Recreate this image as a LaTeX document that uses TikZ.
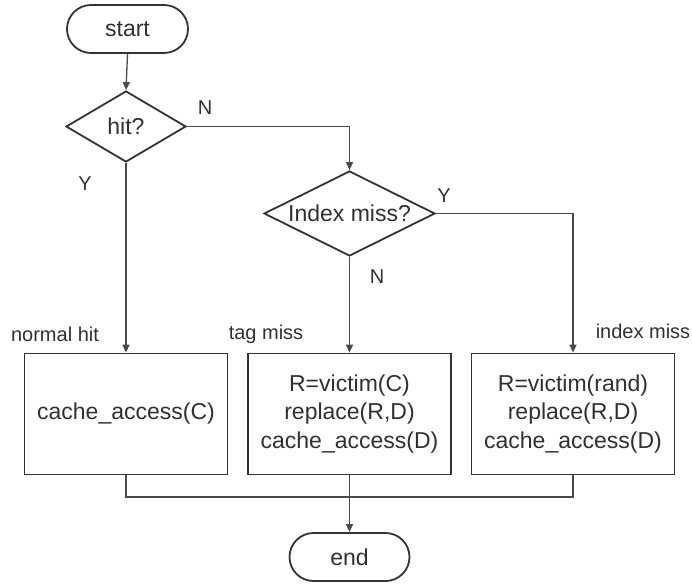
\documentclass[tikz,border=0pt]{standalone}
\usepackage{fontspec}
\setmainfont{Liberation Sans}
\usetikzlibrary{shapes.geometric,arrows.meta}
\definecolor{ln}{HTML}{4A4A4A}
\definecolor{bd}{HTML}{333333}
\definecolor{tx}{HTML}{303030}
\begin{document}
\begin{tikzpicture}[x=1pt,y=-1pt,
  every node/.style={text=tx, font=\fontsize{23}{28.5}\selectfont},
  pill/.style={draw=bd, line width=1.8pt, rectangle, rounded corners=24pt, minimum width=121pt, minimum height=48pt, inner sep=0pt},
  decision/.style={draw=bd, line width=1.8pt, diamond, inner sep=0pt},
  procbox/.style={draw=bd, line width=1.8pt, rectangle, minimum width=203pt, minimum height=121pt, inner sep=0pt, align=center},
  lbl/.style={font=\fontsize{20}{24}\selectfont, anchor=base, inner sep=0pt},
  conn/.style={draw=ln, line width=1.3pt},
  arr/.style={conn, -{Triangle[length=8pt,width=7pt]}}
]
\useasboundingbox (0,0) rectangle (692,584);
% nodes
\node[pill] (start) at (127.5,29) {start};
\node[decision, minimum width=120pt, minimum height=71pt] (hit) at (126,126.5) {};
\node[inner sep=0pt] (hittxt) at (126,126.5) {hit?};
\node[decision, minimum width=171pt, minimum height=85pt] (idx) at (349.5,213.5) {};
\node[inner sep=0pt] (idxtxt) at (349.5,213.5) {Index miss?};
\node[procbox] (b1) at (126,414) {cache\_access(C)};
\node[procbox] (b2) at (349.5,414) {R=victim(C)\\replace(R,D)\\cache\_access(D)};
\node[procbox] (b3) at (573,414) {R=victim(rand)\\replace(R,D)\\cache\_access(D)};
\node[pill, minimum width=120pt, minimum height=48pt] (end) at (349.5,557) {end};
\coordinate (join) at (349.5,497);
% labels
\node[lbl] (lN1) at (205,114) {N};
\node[lbl] (lY1) at (85,190) {Y};
\node[lbl] (lY2) at (444,202) {Y};
\node[lbl] (lN2) at (377,283) {N};
\node[lbl] (lnh) at (55,341) {normal hit};
\node[lbl] (ltm) at (266,339) {tag miss};
\node[lbl] (lim) at (643,338) {index miss};
% connectors
\draw[arr] (start.south) -- (hit.north);
\draw[arr] (hit.east) -| (idx.north);
\draw[arr] (hit.south) -- (b1.north);
\draw[arr] (idx.east) -| (b3.north);
\draw[arr] (idx.south) -- (b2.north);
\draw[conn] (b1.south) |- (join);
\draw[conn] (b3.south) |- (join);
\draw[arr] (b2.south) -- (end.north);
\end{tikzpicture}
\end{document}
